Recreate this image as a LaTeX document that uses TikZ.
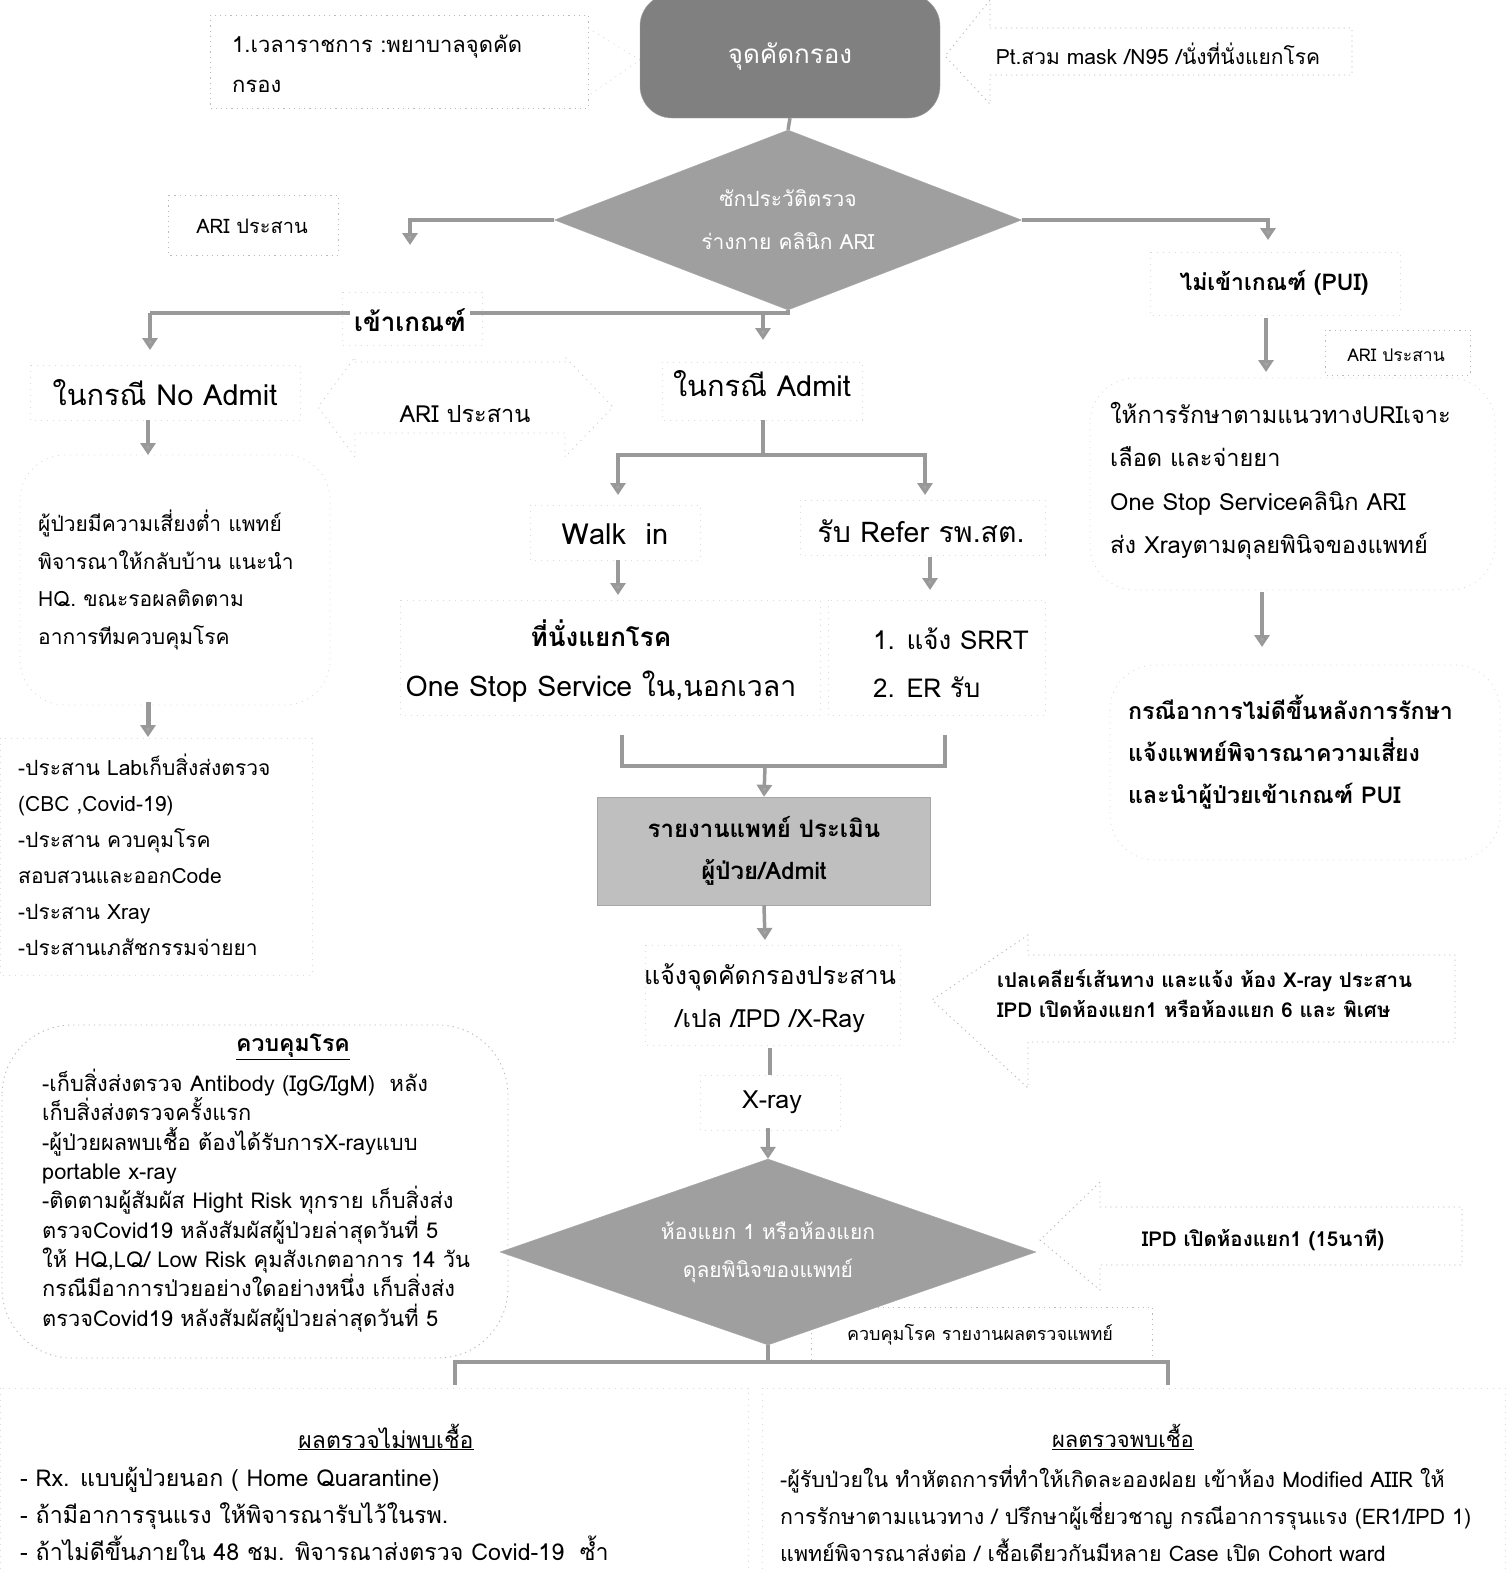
\documentclass[tikz,border=0pt]{standalone}
\usepackage{fontspec}
\setmainfont{Loma}[Script=Thai]
\usetikzlibrary{arrows.meta,shapes.geometric}
\newcommand\fsz[2]{\fontsize{#1}{#2}\selectfont}
\begin{document}
\begin{tikzpicture}[x=1pt,y=-1pt,
  arr/.style={draw=gray!80, line width=3.5pt, -{Triangle[length=12pt,width=15pt,fill=gray!70]}},
  ln/.style={draw=gray!80, line width=3.5pt},
  dfr/.style={draw=gray!55, dash pattern=on 1.2pt off 4pt, line width=0.9pt},
  ffr/.style={draw=gray!28, dash pattern=on 1pt off 5pt, line width=0.8pt},
  txt/.style={inner sep=0pt, text=black},
]
\useasboundingbox (0,0) rectangle (1505,1569);
\fill[white] (0,0) rectangle (1505,1569);

% ---------- faint frames / bubbles ----------
\draw[ffr, rounded corners=45] (20,455) rectangle (330,705);
\draw[ffr] (0,738) rectangle (312,975);
\draw[ffr, rounded corners=45] (1090,378) rectangle (1495,590);
\draw[ffr, rounded corners=45] (1110,665) rectangle (1500,860);
\draw[dfr, rounded corners=70] (2,1025) rectangle (508,1358);
\draw[ffr] (0,1388) rectangle (748,1569);
\draw[ffr] (762,1388) rectangle (1505,1569);
\draw[ffr] (342,292) rectangle (482,345);
\draw[ffr] (662,362) rectangle (862,420);
\draw[ffr] (1150,252) rectangle (1400,315);
\draw[ffr] (30,365) rectangle (300,420);
\draw[ffr] (530,505) rectangle (700,560);
\draw[ffr] (800,500) rectangle (1045,555);
\draw[ffr] (400,600) rectangle (820,715);
\draw[ffr] (828,600) rectangle (1045,715);
\draw[ffr] (645,945) rectangle (900,1045);
\draw[ffr] (700,1075) rectangle (840,1130);

% ---------- callouts ----------
\draw[dfr] (210,15) rectangle (588,108);
\draw[ffr] (588,28) -- (640,60) -- (588,96);
\draw[dfr] (990,28) -- (1352,28) -- (1352,75) -- (990,75) -- (990,104) -- (945,56) -- (990,0) -- cycle;
\draw[dfr] (168,195) rectangle (338,255);
\draw[dfr] (1325,330) rectangle (1470,375);
\draw[ffr, draw=gray!45] (355,362) -- (565,362) -- (565,357) -- (613,407) -- (565,457) -- (565,433) -- (355,433) -- (355,457) -- (318,407) -- (355,357) -- cycle;
\draw[dfr] (1028,955) -- (1455,955) -- (1455,1042) -- (1028,1042) -- (1028,1088) -- (932,1000) -- (1028,935) -- cycle;
\draw[dfr] (1100,1207) -- (1462,1207) -- (1462,1265) -- (1100,1265) -- (1100,1290) -- (1040,1240) -- (1100,1182) -- cycle;
\draw[dfr] (811,1360) -- (811,1307) -- (1152,1307) -- (1152,1360);

% ---------- shapes ----------
\node[rectangle, rounded corners=32, fill=gray, draw=gray!70, minimum width=300pt, minimum height=124pt,
      inner sep=0pt, text=white, font=\fsz{26}{30}] (term) at (790,56) {จุดคัดกรอง};
\node[diamond, aspect=2.6, fill=gray!75, draw=gray!70, minimum width=467pt, minimum height=180pt, inner sep=0pt,
      text=white, align=center, font=\fsz{21}{43}] (d1) at (788,220) {ซักประวัติตรวจ\\ร่างกาย คลินิก ARI};
\node[rectangle, fill=gray!50, draw=gray!70, minimum width=333pt, minimum height=108pt, inner sep=0pt,
      align=center, font=\bfseries\fsz{24}{42}] (rep) at (764,851) {รายงานแพทย์ ประเมิน\\ผู้ป่วย/Admit};
\node[diamond, aspect=2.9, fill=gray!75, draw=gray!70, minimum width=536pt, minimum height=186pt, inner sep=0pt,
      text=white, align=center, font=\fsz{21}{38}] (d2) at (768,1252) {ห้องแยก 1 หรือห้องแยก\\ดุลยพินิจของแพทย์};

% ---------- texts ----------
\node[txt, anchor=north west, align=left, font=\fsz{22}{40}] (t1) at (232,35) {1.เวลาราชการ :พยาบาลจุดคัด\\กรอง};
\node[txt, font=\fsz{21}{24}] (t2) at (1158,54) {Pt.สวม mask /N95 /นั่งที่นั่งแยกโรค};
\node[txt, font=\fsz{20}{22}] (ari1) at (252,226) {ARI ประสาน};
\node[txt, font=\fsz{17.5}{20}] (ari2) at (1396,355) {ARI ประสาน};
\node[txt, font=\fsz{23.5}{26}] (ari3) at (465,414) {ARI ประสาน};
\node[txt, font=\bfseries\fsz{23}{28}] (pui) at (1274,283) {ไม่เข้าเกณฑ์ (PUI)};
\node[txt, font=\fsz{29}{32}] (noadm) at (165,393) {ในกรณี No Admit};
\node[txt, font=\fsz{29}{32}] (adm) at (762,384) {ในกรณี Admit};
\node[txt, font=\fsz{29}{32}] (walk) at (615,534) {Walk\ \ in};
\node[txt, font=\fsz{28.5}{32}] (refer) at (921,531) {รับ Refer รพ.สต.};
\node[txt, anchor=north, align=center, font=\fsz{28.5}{50}] (seat) at (601,620) {{\bfseries\fsz{26}{50}ที่นั่งแยกโรค}\\One Stop Service ใน,นอกเวลา};
\node[txt, anchor=north west, align=left, font=\fsz{26}{48}] (srrt) at (873,628) {1. แจ้ง SRRT\\2. ER รับ};
\node[txt, anchor=north west, align=left, font=\fsz{21}{37.5}] (low) at (38,510) {ผู้ป่วยมีความเสี่ยงต่ำ แพทย์\\พิจารณาให้กลับบ้าน แนะนำ\\HQ. ขณะรอผลติดตาม\\อาการทีมควบคุมโรค};
\node[txt, anchor=north west, align=left, font=\fsz{21}{36}] (coord) at (18,754) {-ประสาน Labเก็บสิ่งส่งตรวจ\\(CBC ,Covid-19)\\-ประสาน ควบคุมโรค\\สอบสวนและออกCode\\-ประสาน Xray\\-ประสานเภสัชกรรมจ่ายยา};
\node[txt, anchor=north west, align=left, font=\fsz{23.6}{43.5}] (uri) at (1110,402) {ให้การรักษาตามแนวทางURIเจาะ\\เลือด และจ่ายยา\\One Stop Serviceคลินิก ARI\\ส่ง Xrayตามดุลยพินิจของแพทย์};
\node[txt, anchor=north west, align=left, font=\bfseries\fsz{23.2}{42}] (worse) at (1128,695) {กรณีอาการไม่ดีขึ้นหลังการรักษา\\แจ้งแพทย์พิจารณาความเสี่ยง\\และนำผู้ป่วยเข้าเกณฑ์ PUI};
\node[txt, anchor=north, align=center, font=\fsz{25}{43}] (notify) at (770,963) {แจ้งจุดคัดกรองประสาน\\/เปล /IPD /X-Ray};
\node[txt, font=\fsz{25}{28}] (xray) at (772,1102) {X-ray};
\node[txt, anchor=north west, align=left, font=\bfseries\fsz{20.5}{30}] (clear) at (997,969) {เปลเคลียร์เส้นทาง และแจ้ง ห้อง X-ray ประสาน\\IPD เปิดห้องแยก1 หรือห้องแยก 6 และ พิเศษ};
\node[txt, font=\bfseries\fsz{20.5}{24}] (ipd) at (1263,1240) {IPD เปิดห้องแยก1 (15นาที)};
\node[txt, font=\fsz{18}{20}] (rpt) at (980,1335) {ควบคุมโรค รายงานผลตรวจแพทย์};
\node[txt, font=\bfseries\fsz{23}{26}] (ctitle) at (293,1047) {\underline{ควบคุมโรค}};
\node[txt, anchor=north west, align=left, font=\fsz{21.8}{29.3}] (ctrl) at (42,1069) {-เก็บสิ่งส่งตรวจ Antibody (IgG/IgM)\ \ หลัง\\เก็บสิ่งส่งตรวจครั้งแรก\\-ผู้ป่วยผลพบเชื้อ ต้องได้รับการX-rayแบบ\\portable x-ray\\-ติดตามผู้สัมผัส Hight Risk ทุกราย เก็บสิ่งส่ง\\ตรวจCovid19 หลังสัมผัสผู้ป่วยล่าสุดวันที่ 5\\ให้ HQ,LQ/ Low Risk คุมสังเกตอาการ 14 วัน\\กรณีมีอาการป่วยอย่างใดอย่างหนึ่ง เก็บสิ่งส่ง\\ตรวจCovid19 หลังสัมผัสผู้ป่วยล่าสุดวันที่ 5};
\node[txt, font=\fsz{23}{26}] (negt) at (386,1437) {\underline{ผลตรวจไม่พบเชื้อ}};
\node[txt, anchor=north west, align=left, font=\fsz{23.2}{37}] (neg) at (20,1467) {- Rx. แบบผู้ป่วยนอก ( Home Quarantine)\\- ถ้ามีอาการรุนแรง ให้พิจารณารับไว้ในรพ.\\- ถ้าไม่ดีขึ้นภายใน 48 ชม. พิจารณาส่งตรวจ Covid-19\ \ ซ้ำ};
\node[txt, font=\fsz{22}{26}] (post) at (1123,1437) {\underline{ผลตรวจพบเชื้อ}};
\node[txt, anchor=north west, align=left, font=\fsz{21.4}{37}] (pos) at (780,1465) {-ผู้รับป่วยใน ทำหัตถการที่ทำให้เกิดละอองฝอย เข้าห้อง Modified AIIR ให้\\การรักษาตามแนวทาง / ปรึกษาผู้เชี่ยวชาญ กรณีอาการรุนแรง (ER1/IPD 1)\\แพทย์พิจารณาส่งต่อ / เชื้อเดียวกันมีหลาย Case เปิด Cohort ward};

% ---------- coordinates ----------
\coordinate (aL) at (410,245);
\coordinate (aR) at (1268,240);
\coordinate (jL) at (150,313);
\coordinate (jM) at (763,313);
\coordinate (eNo) at (150,350);
\coordinate (eAd) at (763,340);
\coordinate (ePui) at (1266,372);
\coordinate (sPui) at (1266,318);
\coordinate (eNoA) at (148,455);
\coordinate (sNoA) at (148,420);
\coordinate (sA) at (763,420);
\coordinate (jA) at (763,455);
\coordinate (eWalk) at (618,495);
\coordinate (eRef) at (925,495);
\coordinate (sW2) at (618,560);
\coordinate (eW2) at (618,595);
\coordinate (sR2) at (930,557);
\coordinate (eR2) at (930,590);
\coordinate (bL) at (622,735);
\coordinate (bR) at (945,735);
\coordinate (bM) at (765,766);
\coordinate (eRep) at (765,940);
\coordinate (sX) at (770,1048);
\coordinate (eX) at (770,1075);
\coordinate (sXr) at (768,1128);
\coordinate (sLow) at (148,702);
\coordinate (eLow) at (148,737);
\coordinate (sUri) at (1262,592);
\coordinate (eUri) at (1262,647);
\coordinate (jB) at (768,1362);
\coordinate (bbL) at (455,1385);
\coordinate (bbR) at (1168,1385);

% ---------- connectors ----------
\draw[ln] (term.south) -- (d1.north);
\draw[arr] (d1.west) -| (aL);
\draw[arr] (d1.east) -| (aR);
\draw[ln] (d1.south) |- (jL);
\draw[arr] (jL) -- (eNo);
\draw[arr] (jM) -- (eAd);
\draw[arr] (sPui) -- (ePui);
\draw[arr] (sNoA) -- (eNoA);
\draw[ln] (sA) -- (jA);
\draw[arr] (jA) -| (eWalk);
\draw[arr] (jA) -| (eRef);
\draw[arr] (sW2) -- (eW2);
\draw[arr] (sR2) -- (eR2);
\draw[ln] (bL) |- (bM) -| (bR);
\draw[arr] (bM) -- (rep.north);
\draw[arr] (rep.south) -- (eRep);
\draw[ln] (sX) -- (eX);
\draw[arr] (sXr) -- (d2.north);
\draw[arr, line width=5pt] (sLow) -- (eLow);
\draw[arr] (sUri) -- (eUri);
\draw[ln] (d2.south) -- (jB);
\draw[ln] (bbL) |- (jB) -| (bbR);

% labels drawn over lines
\node[txt, fill=white, inner sep=4pt, font=\bfseries\fsz{26}{30}] (kao) at (410,320) {เข้าเกณฑ์};
\end{tikzpicture}
\end{document}
